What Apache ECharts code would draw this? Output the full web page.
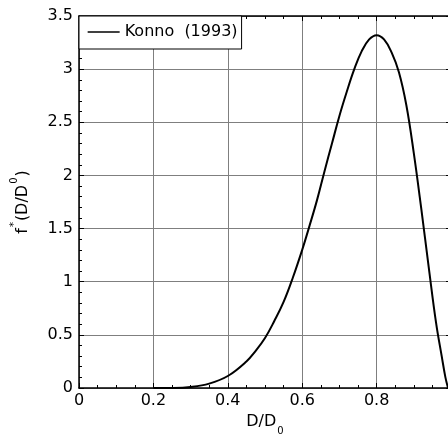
<!DOCTYPE html>
<html>
<head>
<meta charset="utf-8">
<script src="https://cdn.jsdelivr.net/npm/echarts@6/dist/echarts.min.js"></script>
<style>
html,body{margin:0;padding:0;background:#fff;}
#chart{width:448px;height:436px;}
</style>
</head>
<body>
<div id="chart"></div>
<script>
// Data
var seriesName = 'Konno  (1993)';
var xValues = [0.2, 0.25, 0.3, 0.35, 0.4, 0.45, 0.475, 0.5, 0.525, 0.55, 0.575, 0.6, 0.62, 0.64, 0.66, 0.68, 0.7, 0.72, 0.74, 0.76, 0.78, 0.8, 0.82, 0.84, 0.86, 0.88, 0.9, 0.92, 0.94, 0.96, 0.975, 0.985, 0.992];
var yValues = [0, 0.001, 0.01, 0.041, 0.113, 0.25, 0.35, 0.47, 0.63, 0.81, 1.04, 1.3, 1.53, 1.77, 2.04, 2.3, 2.56, 2.79, 3.0, 3.17, 3.28, 3.32, 3.28, 3.16, 2.97, 2.66, 2.21, 1.69, 1.14, 0.61, 0.3, 0.1, 0];
var xTicks = [0, 0.2, 0.4, 0.6, 0.8, 1];
var yTicks = [0, 0.5, 1, 1.5, 2, 2.5, 3, 3.5];

var FONT = 'DejaVu Sans';
var points = xValues.map(function (x, i) { return [x, yValues[i]]; });

function xAx(pos, labels) {
  return {
    type: 'value', position: pos, gridIndex: 0,
    min: xTicks[0], max: xTicks[xTicks.length - 1], interval: xTicks[1] - xTicks[0],
    axisLine: { show: true, onZero: false, lineStyle: { color: '#000', width: 1.5 } },
    axisTick: { show: true, inside: true, length: 5, lineStyle: { color: '#000' } },
    minorTick: { show: true, splitNumber: 4, length: 3, lineStyle: { color: '#000' } },
    splitLine: { show: labels, lineStyle: { color: '#7f7f7f', width: 1 } },
    axisLabel: { show: labels, showMaxLabel: false, margin: 5, color: '#000', fontFamily: FONT, fontSize: 16 },
    name: labels ? '{a|D/D}{s|0}' : '',
    nameLocation: 'middle', nameGap: 25,
    nameTextStyle: {
      rich: {
        a: { fontFamily: FONT, fontSize: 16, color: '#000', lineHeight: 18, verticalAlign: 'top' },
        s: { fontFamily: FONT, fontSize: 10, color: '#000', lineHeight: 18, verticalAlign: 'bottom', padding: [0, 0, -5, 1] }
      }
    }
  };
}
function yAx(pos, labels) {
  return {
    type: 'value', position: pos, gridIndex: 0,
    min: yTicks[0], max: yTicks[yTicks.length - 1], interval: yTicks[1] - yTicks[0],
    axisLine: { show: true, onZero: false, lineStyle: { color: '#000', width: 1.5 } },
    axisTick: { show: true, inside: true, length: 5, lineStyle: { color: '#000' } },
    minorTick: { show: true, splitNumber: 5, length: 3, lineStyle: { color: '#000' } },
    splitLine: { show: labels, lineStyle: { color: '#7f7f7f', width: 1 } },
    axisLabel: { show: labels, margin: 6, color: '#000', fontFamily: FONT, fontSize: 16 },
    name: labels ? '{a|f}{p|*}{a|(D/D}{p|0}{a|)}' : '',
    nameLocation: 'middle', nameGap: 48, nameRotate: 90,
    nameTextStyle: {
      rich: {
        a: { fontFamily: FONT, fontSize: 16, color: '#000', lineHeight: 22, verticalAlign: 'bottom' },
        p: { fontFamily: FONT, fontSize: 10, color: '#000', lineHeight: 22, verticalAlign: 'top', padding: [0, 1, 0, 1] }
      }
    }
  };
}

var chart = echarts.init(document.getElementById('chart'), null, { renderer: 'canvas' });
chart.setOption({
  animation: false,
  backgroundColor: '#fff',
  grid: { left: 79, top: 16, width: 372, height: 372, containLabel: false, outerBoundsMode: 'none' },
  legend: {
    left: 79, top: 16,
    padding: [8, 4, 9, 8],
    itemWidth: 32, itemHeight: 14,
    borderColor: '#000', borderWidth: 1, backgroundColor: '#fff',
    itemStyle: { opacity: 0 },
    lineStyle: { color: '#000', width: 1.3 },
    textStyle: { fontFamily: FONT, fontSize: 16, color: '#000' },
    data: [seriesName]
  },
  xAxis: [xAx('bottom', true), xAx('top', false)],
  yAxis: [yAx('left', true), yAx('right', false)],
  series: [{
    name: seriesName, type: 'line', xAxisIndex: 0, yAxisIndex: 0,
    data: points, smooth: 0.4, symbol: 'none', showSymbol: false,
    lineStyle: { color: '#000', width: 2 }, itemStyle: { color: '#000' },
    z: 3
  }]
});
</script>
</body>
</html>
